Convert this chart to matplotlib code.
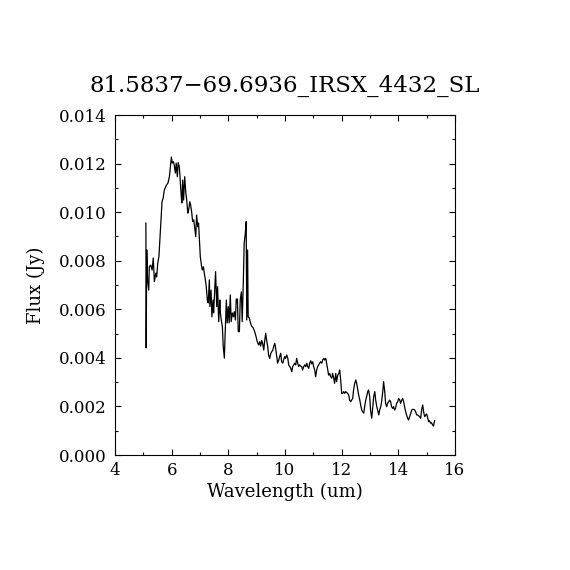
import matplotlib
matplotlib.use("Agg")
import matplotlib.pyplot as plt
from matplotlib.ticker import MultipleLocator

# spectrum
wavelength = [5.09, 5.10, 5.12, 5.15, 5.19, 5.21, 5.26, 5.31, 5.35, 5.39,
              5.44, 5.47, 5.51, 5.55, 5.59, 5.62, 5.66, 5.70, 5.74, 5.79,
              5.82, 5.87, 5.92, 5.95, 5.99, 6.02, 6.06, 6.09, 6.13, 6.16,
              6.20, 6.23, 6.27, 6.30, 6.34, 6.36, 6.39, 6.42, 6.46, 6.50,
              6.53, 6.57, 6.60, 6.64, 6.67, 6.71, 6.74, 6.78, 6.81, 6.85,
              6.88, 6.92, 6.95, 6.98, 7.01, 7.05, 7.08, 7.12, 7.15, 7.19,
              7.22, 7.26, 7.29, 7.33, 7.35, 7.39, 7.42, 7.46, 7.48, 7.52,
              7.55, 7.59, 7.62, 7.66, 7.70, 7.72, 7.75, 7.79, 7.82, 7.86,
              7.89, 7.93, 7.96, 8.00, 8.03, 8.07, 8.10, 8.14, 8.18, 8.21,
              8.25, 8.28, 8.32, 8.35, 8.39, 8.42, 8.46, 8.49, 8.53, 8.56,
              8.60, 8.63, 8.65, 8.68, 8.70, 8.74, 8.78, 8.82, 8.88, 8.93,
              8.98, 9.02, 9.07, 9.11, 9.14, 9.18, 9.21, 9.25, 9.28, 9.32,
              9.35, 9.39, 9.42, 9.46, 9.50, 9.53, 9.57, 9.60, 9.64, 9.67,
              9.71, 9.74, 9.78, 9.81, 9.85, 9.88, 9.92, 9.95, 9.99, 10.02,
              10.06, 10.10, 10.13, 10.17, 10.20, 10.24, 10.27, 10.31, 10.34, 10.38,
              10.41, 10.45, 10.48, 10.52, 10.55, 10.59, 10.62, 10.66, 10.70, 10.73,
              10.77, 10.80, 10.84, 10.87, 10.91, 10.94, 10.98, 11.01, 11.05, 11.08,
              11.12, 11.15, 11.19, 11.22, 11.26, 11.30, 11.33, 11.37, 11.40, 11.44,
              11.47, 11.51, 11.54, 11.58, 11.61, 11.65, 11.68, 11.72, 11.75, 11.79,
              11.82, 11.86, 11.90, 11.93, 11.97, 12.00, 12.04, 12.07, 12.11, 12.14,
              12.18, 12.21, 12.25, 12.28, 12.32, 12.35, 12.39, 12.42, 12.46, 12.50,
              12.53, 12.57, 12.60, 12.64, 12.67, 12.71, 12.74, 12.78, 12.81, 12.85,
              12.88, 12.92, 12.95, 12.99, 13.02, 13.06, 13.10, 13.13, 13.17, 13.20,
              13.24, 13.27, 13.31, 13.34, 13.38, 13.41, 13.45, 13.48, 13.52, 13.55,
              13.59, 13.62, 13.66, 13.69, 13.73, 13.76, 13.80, 13.83, 13.87, 13.90,
              13.94, 13.98, 14.01, 14.05, 14.08, 14.12, 14.15, 14.19, 14.22, 14.26,
              14.29, 14.33, 14.36, 14.40, 14.44, 14.47, 14.51, 14.54, 14.58, 14.61,
              14.65, 14.68, 14.72, 14.75, 14.79, 14.82, 14.86, 14.89, 14.93, 14.97,
              15.00, 15.04, 15.07, 15.10, 15.14, 15.17, 15.21, 15.24, 15.28]

flux = [0.00955, 0.00441, 0.00844, 0.00721, 0.00679, 0.00775, 0.00782, 0.00762, 0.00811, 0.00714,
        0.00749, 0.00733, 0.00791, 0.00817, 0.00899, 0.00968, 0.01043, 0.01058, 0.01091, 0.01105,
        0.01112, 0.01120, 0.01146, 0.01182, 0.01227, 0.01202, 0.01208, 0.01194, 0.01161, 0.01202,
        0.01146, 0.01204, 0.01187, 0.01132, 0.01064, 0.01038, 0.01132, 0.01050, 0.01146, 0.01079,
        0.01050, 0.00996, 0.01009, 0.01043, 0.01029, 0.00996, 0.00961, 0.00968, 0.00940, 0.00899,
        0.00988, 0.00940, 0.00955, 0.00885, 0.00817, 0.00782, 0.00762, 0.00775, 0.00749, 0.00721,
        0.00693, 0.00638, 0.00626, 0.00721, 0.00611, 0.00679, 0.00569, 0.00638, 0.00585, 0.00679,
        0.00755, 0.00611, 0.00693, 0.00549, 0.00638, 0.00585, 0.00556, 0.00528, 0.00446, 0.00399,
        0.00508, 0.00638, 0.00544, 0.00611, 0.00544, 0.00659, 0.00549, 0.00585, 0.00569, 0.00590,
        0.00556, 0.00642, 0.00642, 0.00508, 0.00508, 0.00638, 0.00672, 0.00549, 0.00721, 0.00873,
        0.00914, 0.00961, 0.00556, 0.00844, 0.00569, 0.00564, 0.00544, 0.00531, 0.00523, 0.00508,
        0.00487, 0.00467, 0.00453, 0.00467, 0.00449, 0.00471, 0.00460, 0.00432, 0.00467, 0.00501,
        0.00474, 0.00446, 0.00412, 0.00398, 0.00419, 0.00425, 0.00432, 0.00446, 0.00460, 0.00439,
        0.00405, 0.00378, 0.00391, 0.00405, 0.00419, 0.00384, 0.00378, 0.00391, 0.00405, 0.00398,
        0.00412, 0.00398, 0.00371, 0.00364, 0.00357, 0.00343, 0.00364, 0.00371, 0.00378, 0.00371,
        0.00398, 0.00378, 0.00364, 0.00371, 0.00366, 0.00364, 0.00350, 0.00364, 0.00371, 0.00364,
        0.00378, 0.00364, 0.00357, 0.00378, 0.00388, 0.00375, 0.00384, 0.00364, 0.00350, 0.00322,
        0.00350, 0.00364, 0.00371, 0.00378, 0.00384, 0.00378, 0.00391, 0.00398, 0.00391, 0.00398,
        0.00378, 0.00350, 0.00329, 0.00336, 0.00322, 0.00316, 0.00336, 0.00316, 0.00295, 0.00336,
        0.00302, 0.00329, 0.00336, 0.00350, 0.00302, 0.00254, 0.00254, 0.00261, 0.00254, 0.00261,
        0.00257, 0.00254, 0.00247, 0.00226, 0.00219, 0.00226, 0.00233, 0.00268, 0.00295, 0.00309,
        0.00295, 0.00268, 0.00247, 0.00226, 0.00206, 0.00185, 0.00178, 0.00172, 0.00199, 0.00226,
        0.00240, 0.00261, 0.00268, 0.00240, 0.00185, 0.00151, 0.00199, 0.00240, 0.00261, 0.00226,
        0.00199, 0.00185, 0.00165, 0.00185, 0.00199, 0.00219, 0.00261, 0.00302, 0.00261, 0.00213,
        0.00199, 0.00213, 0.00219, 0.00226, 0.00219, 0.00199, 0.00192, 0.00199, 0.00185, 0.00192,
        0.00213, 0.00219, 0.00233, 0.00226, 0.00213, 0.00226, 0.00233, 0.00219, 0.00199, 0.00178,
        0.00165, 0.00151, 0.00144, 0.00158, 0.00172, 0.00185, 0.00188, 0.00188, 0.00185, 0.00178,
        0.00165, 0.00165, 0.00161, 0.00158, 0.00151, 0.00185, 0.00206, 0.00178, 0.00158, 0.00165,
        0.00169, 0.00151, 0.00137, 0.00141, 0.00131, 0.00133, 0.00124, 0.00119, 0.00141]

title = "81.5837\u221269.6936_IRSX_4432_SL"

plt.rcParams["font.family"] = ["DejaVu Serif"]

fig = plt.figure(figsize=(5.7, 5.7), dpi=100)
ax = fig.add_axes([115 / 570, 115 / 570, 340 / 570, 340 / 570])

ax.plot(wavelength, flux, color="black", linewidth=0.9)

ax.set_xlim(4, 16)
ax.set_ylim(0, 0.014)
ax.xaxis.set_major_locator(MultipleLocator(2))
ax.xaxis.set_minor_locator(MultipleLocator(1))
ax.yaxis.set_major_locator(MultipleLocator(0.002))
ax.yaxis.set_minor_locator(MultipleLocator(0.001))
ax.yaxis.set_major_formatter(plt.FormatStrFormatter("%.3f"))
ax.tick_params(which="both", direction="in", top=True, right=True, width=0.8)
ax.tick_params(which="major", length=4.5, labelsize=12)
ax.tick_params(axis="x", which="major", pad=5)
ax.tick_params(axis="y", which="major", pad=6)
ax.tick_params(which="minor", length=2.2)
for s in ax.spines.values():
    s.set_linewidth(0.8)

ax.set_xlabel("Wavelength (um)", fontsize=13, labelpad=3)
ax.set_ylabel("Flux (Jy)", fontsize=13, labelpad=10)
ax.set_title(title, fontsize=16.5, pad=17)

fig.savefig("out.png", dpi=100)
